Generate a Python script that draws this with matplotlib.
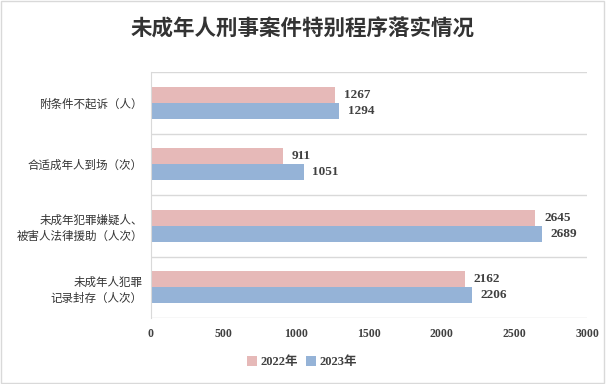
import matplotlib.pyplot as plt
import numpy as np
from matplotlib.patches import Rectangle

plt.rcParams['font.family'] = ['Noto Sans CJK SC', 'DejaVu Sans']

# data
categories = ['附条件不起诉（人）', '合适成年人到场（次）',
              '未成年犯罪嫌疑人、\n被害人法律援助（人次）', '未成年人犯罪\n记录封存（人次）']
values_2022 = [1267, 911, 2645, 2162]
values_2023 = [1294, 1051, 2689, 2206]
series_names = ['2022年', '2023年']
x_ticks = [0, 500, 1000, 1500, 2000, 2500, 3000]

pink = '#E6B9B8'
blue = '#95B3D7'
grid_col = '#D9D9D9'
text_col = '#404040'

fig = plt.figure(figsize=(6.06, 3.84), dpi=100)
fig.patches.append(Rectangle((0.002, 0.003), 0.994, 0.994, transform=fig.transFigure,
                             fill=False, edgecolor='#D9D9D9', linewidth=1))

ax = fig.add_axes([151 / 606, 1 - 318 / 384, 436 / 606, 246 / 384])

y = np.arange(len(categories))
h = 0.26
b1 = ax.barh(y - h / 2, values_2022, height=h, color=pink, label=series_names[0])
b2 = ax.barh(y + h / 2, values_2023, height=h, color=blue, label=series_names[1])

num_font = dict(family='Liberation Serif', fontweight='bold', color=text_col)
for bars in (b1, b2):
    for rect in bars:
        v = rect.get_width()
        ax.text(v + 60, rect.get_y() + rect.get_height() / 2, str(int(v)),
                va='center', ha='left', fontsize=9.5, **num_font)

ax.set_xlim(0, 3000)
ax.set_ylim(len(categories) - 0.5, -0.5)
ax.set_xticks(x_ticks)
ax.set_xticklabels([str(t) for t in x_ticks], fontsize=8.5, **num_font)
ax.set_yticks(y)
ax.set_yticklabels(categories, fontsize=8.3, color='#333333', ha='right',
                   multialignment='right', linespacing=1.3)
ax.tick_params(axis='both', length=0)
ax.tick_params(axis='x', pad=7)
ax.tick_params(axis='y', pad=6)

for b in np.arange(-0.5, len(categories), 1.0):
    ax.axhline(b, color=grid_col, linewidth=1, zorder=0)

for s in ['top', 'right', 'bottom']:
    ax.spines[s].set_visible(False)
ax.spines['left'].set_color(grid_col)

fig.text(0.5, 1 - 29 / 384, '未成年人刑事案件特别程序落实情况', ha='center', va='center',
         fontsize=15.5, fontweight='bold', color='#333333')

leg = fig.legend(handles=[b1, b2], labels=series_names, loc='center',
                 bbox_to_anchor=(302 / 606, 1 - 362 / 384), ncol=2, frameon=False,
                 handlelength=0.8, handleheight=0.8, handletextpad=0.3, columnspacing=0.6,
                 prop={'family': ['Liberation Serif', 'Noto Sans CJK SC'], 'weight': 'bold', 'size': 9})
for t in leg.get_texts():
    t.set_color(text_col)

fig.savefig('out.png', dpi=100)
